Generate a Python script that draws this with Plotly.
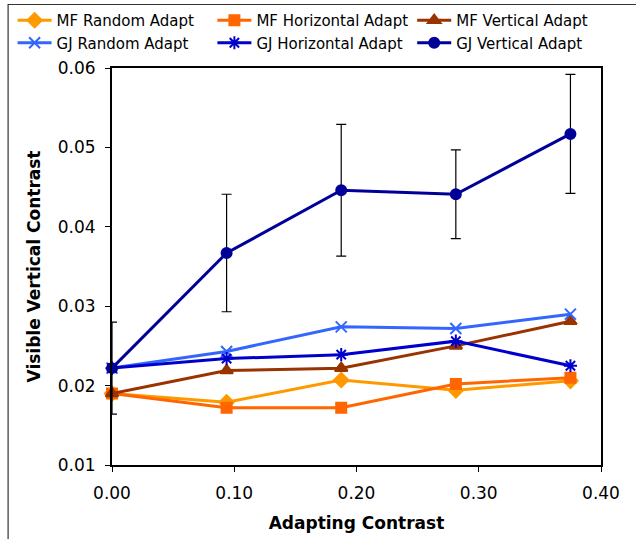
import plotly.graph_objects as go

# Data
x_vals = [0.0, 0.09375, 0.1875, 0.28125, 0.375]
mf_random = [0.0190, 0.0179, 0.0207, 0.0194, 0.0206]
mf_horizontal = [0.0190, 0.0172, 0.0172, 0.0202, 0.0210]
mf_vertical = [0.0190, 0.0219, 0.0222, 0.0250, 0.0281]
gj_random = [0.0222, 0.0243, 0.0274, 0.0272, 0.0290]
gj_horizontal = [0.0222, 0.0234, 0.0239, 0.0256, 0.0225]
gj_vertical = [0.0222, 0.0367, 0.0446, 0.0441, 0.0517]
gj_vertical_err = [0.0058, 0.0074, 0.0083, 0.0056, 0.0075]

x_ticks = [0.0, 0.1, 0.2, 0.3, 0.4]
y_ticks = [0.01, 0.02, 0.03, 0.04, 0.05, 0.06]

# name, values, colour, symbol, size, legend column
series = [
    ("MF Random Adapt", mf_random, "#FF9900", "diamond", 11, "legend"),
    ("MF Horizontal Adapt", mf_horizontal, "#FF6600", "square", 10, "legend2"),
    ("MF Vertical Adapt", mf_vertical, "#993300", "triangle-up", 11, "legend3"),
    ("GJ Random Adapt", gj_random, "#3366FF", "x-thin-open", 11, "legend"),
    ("GJ Horizontal Adapt", gj_horizontal, "#0000CC", "asterisk-open", 11, "legend2"),
    ("GJ Vertical Adapt", gj_vertical, "#000099", "circle", 10, "legend3"),
]

FONT = "DejaVu Sans, Verdana, sans-serif"
fig = go.Figure()
for name, ys, color, sym, size, lg in series:
    kw = {}
    if name == "GJ Vertical Adapt":
        kw["error_y"] = dict(type="data", array=gj_vertical_err, visible=True,
                             color="black", thickness=1.2, width=5)
    fig.add_trace(go.Scatter(
        x=x_vals, y=ys, name=name, mode="lines+markers", legend=lg,
        line=dict(color=color, width=3),
        marker=dict(symbol=sym, size=size, color=color,
                    line=dict(color=color, width=2)),
        cliponaxis=False, **kw))

W, H = 636, 539
L, R, T, B = 111.5, 35, 68, 74
pw, ph = W - L - R, H - T - B

def px2paper_x(px):
    return (px - L) / pw

def px2paper_y(py):
    return (H - B - py) / ph

def leg(xpx):
    return dict(orientation="v", xref="paper", yref="paper",
                x=px2paper_x(xpx), y=px2paper_y(4), xanchor="left", yanchor="top",
                font=dict(size=15), bgcolor="rgba(0,0,0,0)",
                itemwidth=34, tracegroupgap=0)

fig.update_layout(
    width=W, height=H,
    margin=dict(l=L, r=R, t=T, b=B, autoexpand=False),
    paper_bgcolor="white", plot_bgcolor="white",
    font=dict(family=FONT, size=16, color="black"),
    showlegend=True,
    legend=leg(12),
    legend2=leg(212),
    legend3=leg(412),
    xaxis=dict(range=[0, 0.4], tickvals=x_ticks, tickformat=".2f",
               showline=True, linecolor="black", linewidth=2, mirror=True,
               ticks="outside", ticklen=5, tickcolor="black", showgrid=False,
               zeroline=False, tickfont=dict(size=17), ticklabelstandoff=7,
               title=dict(text="<b>Adapting Contrast</b>", font=dict(size=17), standoff=15)),
    yaxis=dict(range=[0.01, 0.06], tickvals=y_ticks, tickformat=".2f",
               showline=True, linecolor="black", linewidth=2, mirror=True,
               ticks="outside", ticklen=5, tickcolor="black", showgrid=False,
               zeroline=False, tickfont=dict(size=17), ticklabelstandoff=6,
               title=dict(text="<b>Visible Vertical Contrast</b>", font=dict(size=17), standoff=13)),
    shapes=[dict(type="rect", xref="paper", yref="paper",
                 x0=px2paper_x(7.5), x1=px2paper_x(645), y0=px2paper_y(548), y1=px2paper_y(4.5),
                 line=dict(color="#333333", width=1.2), layer="below")],
)

fig.write_html("out.html", config={"displayModeBar": False},
               post_script="document.body.style.margin='0px';")
